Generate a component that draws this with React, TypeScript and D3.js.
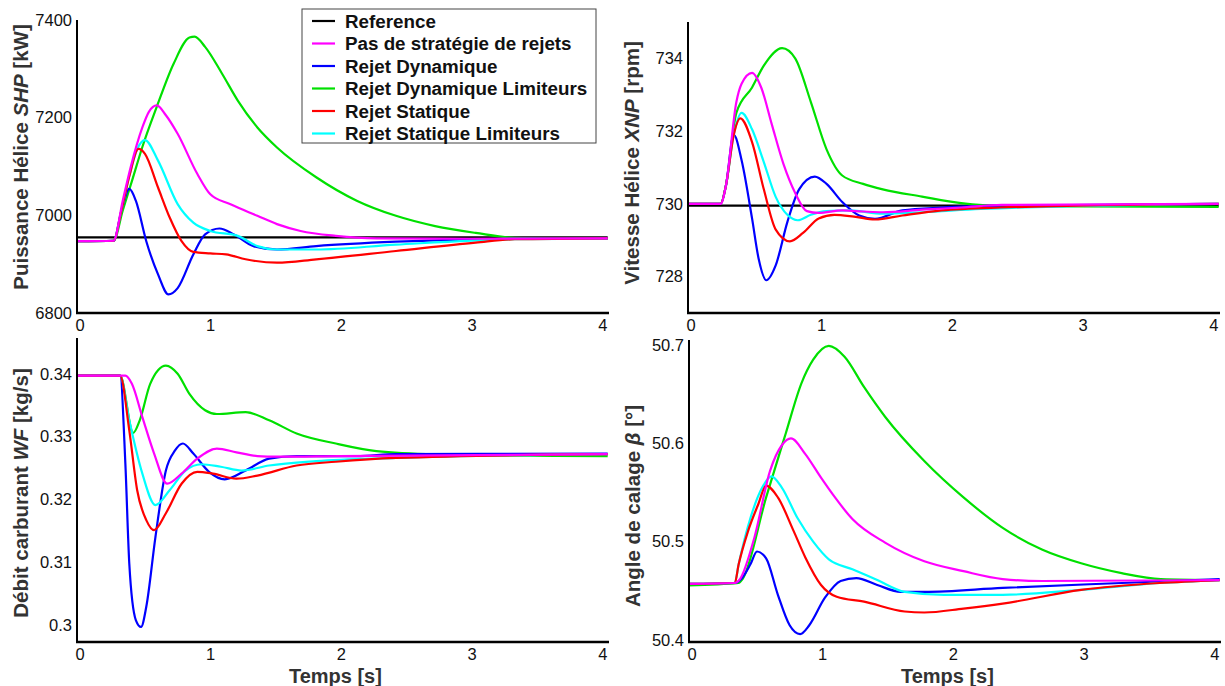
import React from "react";
import * as d3 from "d3";

type Pt = [number, number];

// ---------- Series labels & colours ----------
const seriesNames = [
  "Reference",
  "Pas de stratégie de rejets",
  "Rejet Dynamique",
  "Rejet Dynamique Limiteurs",
  "Rejet Statique",
  "Rejet Statique Limiteurs",
];
const seriesColors = ["#000000", "#ff00ff", "#0000ff", "#00e000", "#ff0000", "#00ffff"];

const xTicks = [0, 1, 2, 3, 4];

// ---------- Puissance Hélice SHP [kW] ----------
const shpTicks = [6800, 7000, 7200, 7400];
const shpRef: Pt[] = [[0, 6955], [4.06, 6955]];
const shpPas: Pt[] = [[0, 6947], [0.28, 6948], [0.35, 7030], [0.41, 7098], [0.5, 7180], [0.55, 7212], [0.61, 7225], [0.68, 7205], [0.77, 7167], [0.92, 7085], [1.02, 7043], [1.17, 7023], [1.38, 6999], [1.53, 6982], [1.71, 6968], [1.98, 6958], [2.29, 6953], [3, 6952], [4.06, 6953]];
const shpDyn: Pt[] = [[0, 6947], [0.28, 6948], [0.34, 7010], [0.4, 7054], [0.45, 7030], [0.53, 6947], [0.62, 6879], [0.7, 6838], [0.77, 6851], [0.89, 6920], [0.98, 6961], [1.09, 6973], [1.2, 6961], [1.35, 6937], [1.53, 6930], [1.83, 6937], [2.44, 6946], [3.35, 6952], [4.06, 6953]];
const shpDynLim: Pt[] = [[0, 6947], [0.28, 6948], [0.35, 7010], [0.42, 7070], [0.5, 7140], [0.61, 7222], [0.74, 7311], [0.86, 7364], [0.9, 7366], [0.98, 7345], [1.11, 7290], [1.23, 7235], [1.38, 7180], [1.53, 7139], [1.83, 7078], [2.14, 7030], [2.44, 6999], [2.74, 6978], [3.05, 6964], [3.35, 6954], [4.06, 6952]];
const shpStat: Pt[] = [[0, 6947], [0.28, 6948], [0.34, 7010], [0.4, 7080], [0.47, 7136], [0.52, 7126], [0.62, 7057], [0.71, 6995], [0.8, 6947], [0.89, 6925], [1.02, 6922], [1.14, 6920], [1.29, 6910], [1.53, 6903], [1.83, 6910], [2.44, 6927], [3.05, 6944], [3.35, 6951], [4.06, 6953]];
const shpStatLim: Pt[] = [[0, 6947], [0.28, 6948], [0.34, 7010], [0.4, 7080], [0.46, 7135], [0.52, 7154], [0.62, 7112], [0.77, 7023], [0.89, 6985], [1.02, 6968], [1.23, 6958], [1.38, 6937], [1.53, 6930], [1.83, 6930], [2.44, 6940], [3.35, 6951], [4.06, 6952]];

// ---------- Vitesse Hélice XNP [rpm] ----------
const xnpTicks = [728, 730, 732, 734];
const xnpRef: Pt[] = [[0, 729.95], [4.06, 729.95]];
const xnpPas: Pt[] = [[0, 730], [0.25, 730], [0.29, 730.5], [0.37, 732.8], [0.41, 733.3], [0.49, 733.6], [0.56, 733.2], [0.64, 732.2], [0.73, 731.1], [0.82, 730.3], [0.91, 729.8], [1.0, 729.75], [1.18, 729.82], [1.34, 729.79], [1.49, 729.77], [1.79, 729.84], [2.09, 729.9], [2.4, 729.97], [4.06, 730]];
const xnpDyn: Pt[] = [[0, 730], [0.25, 730], [0.29, 730.5], [0.35, 731.9], [0.41, 731.2], [0.49, 729.6], [0.54, 728.5], [0.6, 727.9], [0.67, 728.3], [0.76, 729.5], [0.85, 730.4], [0.97, 730.75], [1.06, 730.55], [1.18, 730.05], [1.31, 729.68], [1.43, 729.59], [1.64, 729.82], [1.94, 729.9], [2.4, 729.95], [4.06, 730]];
const xnpDynLim: Pt[] = [[0, 730], [0.25, 730], [0.29, 730.5], [0.37, 732.5], [0.49, 733.2], [0.58, 733.8], [0.72, 734.28], [0.82, 734], [0.94, 732.8], [1.06, 731.5], [1.18, 730.78], [1.34, 730.55], [1.49, 730.4], [1.79, 730.2], [2.09, 730.02], [2.39, 729.94], [4.06, 729.92]];
const xnpStat: Pt[] = [[0, 730], [0.25, 730], [0.29, 730.5], [0.35, 731.9], [0.4, 732.35], [0.49, 731.7], [0.58, 730.4], [0.67, 729.3], [0.78, 728.97], [0.88, 729.2], [1.0, 729.6], [1.12, 729.7], [1.27, 729.65], [1.43, 729.57], [1.64, 729.68], [1.94, 729.82], [2.39, 729.9], [4.06, 730]];
const xnpStatLim: Pt[] = [[0, 730], [0.25, 730], [0.29, 730.5], [0.35, 731.9], [0.41, 732.5], [0.49, 732.05], [0.58, 731.15], [0.67, 730.2], [0.76, 729.7], [0.84, 729.55], [0.94, 729.7], [1.06, 729.8], [1.24, 729.82], [1.49, 729.73], [1.79, 729.77], [2.24, 729.86], [4.06, 730]];

// ---------- Débit carburant WF [kg/s] ----------
const wfTicks = [0.3, 0.31, 0.32, 0.33, 0.34];
const wfPas: Pt[] = [[0, 0.3397], [0.37, 0.3397], [0.42, 0.3384], [0.5, 0.3331], [0.59, 0.3273], [0.69, 0.3225], [0.8, 0.3241], [0.92, 0.3265], [1.07, 0.3281], [1.22, 0.3275], [1.38, 0.3269], [1.53, 0.3268], [2.0, 0.3269], [4.06, 0.3272]];
const wfDyn: Pt[] = [[0, 0.3397], [0.33, 0.3397], [0.37, 0.3257], [0.4, 0.3098], [0.45, 0.3008], [0.49, 0.2997], [0.53, 0.3029], [0.6, 0.314], [0.68, 0.3246], [0.75, 0.3278], [0.81, 0.3289], [0.89, 0.3273], [1.01, 0.3244], [1.13, 0.3232], [1.29, 0.3246], [1.47, 0.3265], [1.68, 0.3269], [2.14, 0.3269], [2.44, 0.3272], [4.06, 0.3273]];
const wfDynLim: Pt[] = [[0, 0.3397], [0.33, 0.3397], [0.43, 0.3306], [0.48, 0.3326], [0.56, 0.3384], [0.68, 0.3413], [0.77, 0.34], [0.86, 0.3368], [0.98, 0.3342], [1.07, 0.3336], [1.29, 0.3339], [1.47, 0.3326], [1.68, 0.3305], [1.98, 0.3289], [2.29, 0.3277], [2.74, 0.3272], [4.06, 0.3269]];
const wfStat: Pt[] = [[0, 0.3397], [0.33, 0.3397], [0.4, 0.331], [0.46, 0.3215], [0.53, 0.3167], [0.59, 0.3151], [0.68, 0.3178], [0.8, 0.3225], [0.92, 0.3244], [1.04, 0.3241], [1.22, 0.3233], [1.38, 0.3238], [1.68, 0.3254], [1.98, 0.326], [2.44, 0.3266], [4.06, 0.3272]];
const wfStatLim: Pt[] = [[0, 0.3397], [0.33, 0.3397], [0.4, 0.3326], [0.5, 0.3241], [0.6, 0.3191], [0.71, 0.3215], [0.83, 0.3246], [0.95, 0.3256], [1.1, 0.3252], [1.26, 0.3246], [1.47, 0.3254], [1.83, 0.3261], [2.44, 0.3266], [4.06, 0.3272]];

// ---------- Angle de calage β [°] ----------
const betaTicks = [50.4, 50.5, 50.6, 50.7];
const betaPas: Pt[] = [[0, 50.457], [0.35, 50.458], [0.39, 50.462], [0.5, 50.504], [0.62, 50.572], [0.71, 50.598], [0.78, 50.605], [0.89, 50.589], [1.01, 50.565], [1.1, 50.548], [1.25, 50.523], [1.5, 50.499], [1.8, 50.48], [2.1, 50.47], [2.4, 50.462], [2.7, 50.46], [4.06, 50.461]];
const betaDyn: Pt[] = [[0, 50.457], [0.35, 50.458], [0.4, 50.462], [0.47, 50.477], [0.52, 50.49], [0.59, 50.483], [0.68, 50.446], [0.77, 50.415], [0.85, 50.406], [0.92, 50.415], [1.04, 50.443], [1.16, 50.46], [1.28, 50.463], [1.44, 50.456], [1.62, 50.449], [1.8, 50.449], [2.4, 50.453], [3.31, 50.458], [4.06, 50.462]];
const betaDynLim: Pt[] = [[0, 50.4556], [0.38, 50.458], [0.41, 50.462], [0.59, 50.545], [0.74, 50.61], [0.86, 50.661], [0.95, 50.685], [1.07, 50.699], [1.19, 50.688], [1.34, 50.657], [1.5, 50.627], [1.8, 50.582], [2.1, 50.545], [2.4, 50.514], [2.7, 50.492], [3.0, 50.478], [3.31, 50.468], [3.61, 50.462], [4.06, 50.461]];
const betaStat: Pt[] = [[0, 50.457], [0.35, 50.458], [0.38, 50.477], [0.45, 50.51], [0.53, 50.538], [0.59, 50.557], [0.68, 50.545], [0.8, 50.511], [0.89, 50.484], [1.01, 50.456], [1.13, 50.444], [1.34, 50.439], [1.65, 50.429], [1.8, 50.428], [2.1, 50.432], [2.4, 50.437], [3.0, 50.451], [3.6, 50.458], [4.06, 50.461]];
const betaStatLim: Pt[] = [[0, 50.457], [0.35, 50.458], [0.38, 50.477], [0.47, 50.524], [0.56, 50.555], [0.63, 50.5664], [0.71, 50.555], [0.83, 50.524], [0.95, 50.5], [1.07, 50.482], [1.25, 50.472], [1.44, 50.461], [1.65, 50.449], [1.95, 50.446], [2.4, 50.446], [3.0, 50.451], [3.6, 50.458], [4.06, 50.461]];

const FONT = "'Liberation Sans', Arial, sans-serif";

type PanelProps = {
  left: number;
  top: number;
  bottom: number;
  yDomain: [number, number];
  yTicks: number[];
  yFmt: (v: number) => string;
  series: (Pt[] | null)[];
  label: React.ReactNode;
  labelX: number;
  labelY: number;
  xTitle?: boolean;
};

const Panel: React.FC<PanelProps> = ({ left, top, bottom, yDomain, yTicks, yFmt, series, label, labelX, labelY, xTitle }) => {
  const right = left + 532;
  const x = d3.scaleLinear().domain([0, 4.07]).range([left, right]);
  const y = d3.scaleLinear().domain(yDomain).range([bottom, top]);
  const line = d3
    .line<Pt>()
    .x((d) => x(d[0]))
    .y((d) => y(d[1]))
    .curve(d3.curveMonotoneX);
  const order = [0, 3, 2, 5, 4, 1];
  return (
    <g>
      {order.map((i) =>
        series[i] ? (
          <path key={i} d={line(series[i] as Pt[]) || ""} fill="none" stroke={seriesColors[i]} strokeWidth={2.2} strokeLinejoin="round" />
        ) : null
      )}
      <line x1={left} x2={left} y1={top} y2={bottom} stroke="#000" strokeWidth={2} />
      <line x1={left - 1} x2={right} y1={bottom} y2={bottom} stroke="#000" strokeWidth={2.4} />
      {yTicks.map((t) => (
        <text key={t} x={left - 5} y={y(t)} dy="0.35em" textAnchor="end" fontSize={16.5} fontFamily={FONT} fill="#111">
          {yFmt(t)}
        </text>
      ))}
      {xTicks.map((t) => (
        <text key={t} x={x(t) + 3} y={bottom + 12} dy="0.35em" textAnchor="middle" fontSize={16.5} fontFamily={FONT} fill="#111">
          {t}
        </text>
      ))}
      <text
        transform={`translate(${labelX},${labelY}) rotate(-90)`}
        textAnchor="middle"
        dy="0.35em"
        fontSize={20.5}
        fontWeight="bold"
        fontFamily={FONT}
        fill="#333"
      >
        {label}
      </text>
      {xTitle ? (
        <text x={x(2) - 3} y={bottom + 34} dy="0.35em" textAnchor="middle" fontSize={20} fontWeight="bold" fontFamily={FONT} fill="#333">
          Temps [s]
        </text>
      ) : null}
    </g>
  );
};

const Legend: React.FC = () => {
  const lx = 302;
  const ly = 9;
  const rowY = (i: number) => ly + 12 + i * 22.5;
  return (
    <g>
      <rect x={lx} y={ly} width={294} height={134} fill="#fff" stroke="#444" strokeWidth={1} />
      {seriesNames.map((n, i) => (
        <g key={n}>
          <line x1={lx + 10} x2={lx + 33} y1={rowY(i)} y2={rowY(i)} stroke={seriesColors[i]} strokeWidth={2.2} />
          <text x={lx + 43} y={rowY(i)} dy="0.35em" fontSize={18.8} fontWeight="bold" fontFamily={FONT} fill="#111">
            {n}
          </text>
        </g>
      ))}
    </g>
  );
};

export default function App() {
  return (
    <svg width={1225} height={686} style={{ position: "absolute", left: 0, top: 0, background: "#fff" }}>
      <Panel
        left={77}
        top={20}
        bottom={313}
        yDomain={[6800, 7400]}
        yTicks={shpTicks}
        yFmt={(v) => String(v)}
        series={[shpRef, shpPas, shpDyn, shpDynLim, shpStat, shpStatLim]}
        label={<>Puissance Hélice <tspan fontStyle="italic">SHP</tspan> [kW]</>}
        labelX={21}
        labelY={157}
      />
      <Panel
        left={688}
        top={22}
        bottom={313}
        yDomain={[727, 735]}
        yTicks={xnpTicks}
        yFmt={(v) => String(v)}
        series={[xnpRef, xnpPas, xnpDyn, xnpDynLim, xnpStat, xnpStatLim]}
        label={<>Vitesse Hélice <tspan fontStyle="italic">XNP</tspan> [rpm]</>}
        labelX={632}
        labelY={163}
      />
      <Panel
        left={77}
        top={338}
        bottom={642}
        yDomain={[0.2973, 0.3457]}
        yTicks={wfTicks}
        yFmt={(v) => String(+v.toFixed(2))}
        series={[null, wfPas, wfDyn, wfDynLim, wfStat, wfStatLim]}
        label={<>Débit carburant <tspan fontStyle="italic">WF</tspan> [kg/s]</>}
        labelX={21}
        labelY={493}
        xTitle
      />
      <Panel
        left={689}
        top={340}
        bottom={642}
        yDomain={[50.398, 50.705]}
        yTicks={betaTicks}
        yFmt={(v) => v.toFixed(1)}
        series={[null, betaPas, betaDyn, betaDynLim, betaStat, betaStatLim]}
        label={<>Angle de calage <tspan fontStyle="italic">β</tspan> [°]</>}
        labelX={633}
        labelY={506}
        xTitle
      />
      <Legend />
    </svg>
  );
}
